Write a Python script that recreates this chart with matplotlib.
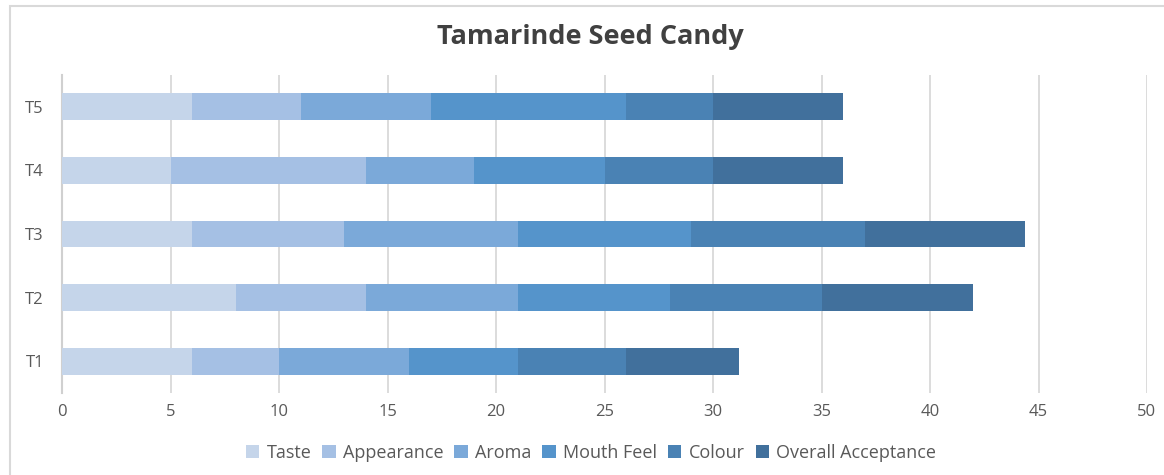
import matplotlib
matplotlib.use("Agg")
import matplotlib.pyplot as plt
from matplotlib.patches import Rectangle
import numpy as np

plt.rcParams['font.family'] = ['Open Sans', 'DejaVu Sans']

categories = ["T1", "T2", "T3", "T4", "T5"]
series_names = ["Taste", "Appearance", "Aroma", "Mouth Feel", "Colour", "Overall Acceptance"]
taste = [6, 8, 6, 5, 6]
appearance = [4, 6, 7, 9, 5]
aroma = [6, 7, 8, 5, 6]
mouth_feel = [5, 7, 8, 6, 9]
colour = [5, 7, 8, 5, 4]
overall = [5.2, 7, 7.4, 6, 6]
colors = ["#C5D5EA", "#A5C0E4", "#7BA9D9", "#5594CB", "#4A82B4", "#41709C"]

series = [taste, appearance, aroma, mouth_feel, colour, overall]

fig = plt.figure(figsize=(11.64, 4.75), dpi=100)
ax = fig.add_axes([62/1164, 1-393/475, (1147-62)/1164, (393-75)/475])

y = np.arange(len(categories))
left = np.zeros(len(categories))
for name, vals, c in zip(series_names, series, colors):
    ax.barh(y, vals, left=left, height=0.42, color=c, label=name, zorder=3)
    left += np.array(vals)

ax.set_xlim(0, 50)
ax.set_ylim(-0.5, 4.5)
ax.set_xticks(np.arange(0, 51, 5))
ax.set_yticks(y)
ax.set_yticklabels(categories)
ax.grid(axis='x', color='#DCDCDC', linewidth=1.4, zorder=0)
for s in ['top', 'right', 'bottom']:
    ax.spines[s].set_visible(False)
ax.spines['left'].set_color('#D0D0D0')
ax.spines['left'].set_linewidth(1.5)
ax.tick_params(axis='both', length=0, labelsize=12, labelcolor='#595959')
ax.tick_params(axis='x', pad=8)
ax.tick_params(axis='y', pad=13)

fig.text(590/1164, 1-37/475, "Tamarinde Seed Candy", ha='center', va='center',
         fontsize=19.5, fontweight='bold', color='#404040')

leg = fig.legend(loc='center', bbox_to_anchor=(591/1164, 1-453/475), ncol=6,
                 frameon=False, fontsize=13, handlelength=0.75, handleheight=0.75,
                 handletextpad=0.4, columnspacing=0.6, labelcolor='#595959')

fig.patches.append(Rectangle((10/1164, -0.1), 1.2, 1-6/475+0.1, transform=fig.transFigure,
                             fill=False, edgecolor='#D9D9D9', linewidth=1.5, zorder=0))

fig.savefig("out.png", dpi=100)
